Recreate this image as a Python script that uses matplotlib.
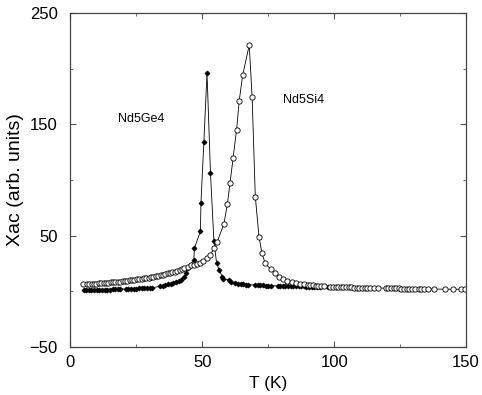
import matplotlib
matplotlib.use("Agg")
import matplotlib.pyplot as plt
from matplotlib.ticker import MultipleLocator

plt.rcParams['font.family'] = ['Liberation Sans', 'DejaVu Sans']

# Nd5Ge4 (filled diamonds)
ge_t = [5, 6, 7, 8, 9, 10, 11, 12, 13, 14, 15, 16, 17, 18, 19,
        21, 22, 23, 24, 25, 26, 27, 28, 29, 30, 31,
        34, 35, 36, 37, 38, 39, 40, 41, 42, 43.2, 44, 44.5, 46.8, 47,
        49.3, 49.5, 50.6, 51.8, 53.1, 54.4, 55.4, 56.4, 57.6, 58, 60.2,
        61, 62.4, 63.5, 64.5, 65.5, 66.5, 67.5,
        70, 71, 72, 73, 74, 75, 76,
        78.7, 79.5, 80.5, 81.5, 82.5, 83.5, 84.5, 85.5, 86.5, 87.5, 88.5,
        89.5, 90.5, 91.5, 92.5, 93.5, 94.5, 97.5, 98.5, 99.5]
ge_v = [1.3, 1.3, 1.4, 1.4, 1.4, 1.5, 1.5, 1.5, 1.6, 1.6, 1.6, 1.7, 1.7, 1.8, 1.8,
        2.2, 2.3, 2.4, 2.4, 2.5, 2.6, 2.7, 2.8, 2.9, 3.0, 3.2,
        4.5, 5.0, 5.6, 6.2, 6.8, 7.4, 8.2, 9.2, 10.5, 12.5, 16, 20.6, 28, 38.6,
        54, 79.6, 134, 196, 106.5, 45.4, 25.7, 19.1, 13.1, 11.5, 10.1,
        8.0, 7.2, 6.8, 6.5, 6.3, 6.1, 6.0,
        5.6, 5.5, 5.4, 5.3, 5.2, 5.1, 5.0,
        4.9, 4.8, 4.8, 4.7, 4.7, 4.6, 4.6, 4.5, 4.5, 4.4, 4.4,
        4.3, 4.3, 4.2, 4.2, 4.1, 4.1, 4.0, 4.0, 4.0]

# Nd5Si4 (open circles)
si_t = [4.6, 6.3, 7.2, 8.1, 9, 9.9, 10.8, 11.7, 12.6, 13.5, 14.4, 15.3, 16.2,
        17.1, 18, 18.9, 19.8, 20.7, 21.6, 22.5, 23.4, 24.3, 25.2, 26.1, 27,
        27.9, 28.8, 29.7, 30.6, 31.5, 32.4, 33.3, 34.2, 35.1, 36, 36.9, 37.8,
        38.7, 39.6, 40.5, 41.4, 42.3, 43.2, 44.7, 45.8, 47, 47.9, 49.2, 50.4,
        51.6, 52.9, 54.6, 55.6, 58.2, 59.5, 60.5, 61.7, 63, 64, 65.3, 67.8,
        68.9, 70.1, 71.5, 72.6, 73.8, 75.9, 77.6, 79, 80.7, 82, 84, 85.5, 87,
        88.5, 90, 91, 92, 93, 94, 95, 96, 98.5, 99.5, 100.5, 101.5, 102.5,
        103.5, 104.5, 105.5, 106.5, 107.5, 108.5, 109.5, 110.5, 111.5, 112.5,
        113.5, 115, 116.5, 119.5, 120.5, 121.5, 122.5, 123.5, 124.5, 125.5,
        126.5, 127.5, 128.5, 129.5, 130.5, 132, 133, 134, 135.5, 138, 142,
        145, 148, 149.5]
si_v = [6.5, 6.6, 6.7, 6.8, 6.9, 7.0, 7.1, 7.2, 7.4, 7.6, 7.8, 8.0, 8.2,
        8.4, 8.6, 8.8, 9.1, 9.3, 9.6, 9.8, 10.1, 10.4, 10.7, 11.0, 11.3,
        11.6, 11.9, 12.3, 12.7, 13.1, 13.5, 14.0, 14.5, 15.0, 15.5, 16.0, 16.5,
        17.0, 17.6, 18.3, 19.0, 19.8, 20.7, 22, 23.2, 24, 24.5, 25.8, 27.5,
        29.5, 32.6, 38.6, 44, 60.5, 78, 97, 120, 145, 171, 194, 221,
        174, 85, 49, 34.2, 25.5, 19.8, 16, 12.8, 10.8, 9.5, 8.1, 7.5, 7.0,
        6.6, 6.0, 5.6, 5.3, 5.0, 4.8, 4.6, 4.4, 4.1, 4.0, 3.9, 3.8, 3.7,
        3.7, 3.6, 3.5, 3.5, 3.4, 3.3, 3.3, 3.2, 3.2, 3.1,
        3.1, 3.0, 3.0, 2.8, 2.8, 2.7, 2.7, 2.6, 2.6, 2.5,
        2.5, 2.4, 2.4, 2.3, 2.3, 2.2, 2.2, 2.1, 2.1, 2.0, 1.9,
        1.9, 1.8, 1.8]

x_ticks = [0, 50, 100, 150]
y_ticks = [-50, 50, 150, 250]

fig = plt.figure(figsize=(4.82, 3.95), dpi=100)
ax = fig.add_axes([0.146, 0.1215, 0.821, 0.846])

ax.plot(ge_t, ge_v, color='black', lw=0.6, marker='D', ms=2.6,
        mfc='black', mec='black', mew=0.5)
ax.plot(si_t, si_v, color='black', lw=0.6, marker='o', ms=3.8,
        mfc='white', mec='black', mew=0.6)

ax.text(18, 155, 'Nd5Ge4', fontsize=9, va='center')
ax.text(80.5, 172, 'Nd5Si4', fontsize=9, va='center')

ax.set_xlim(0, 150)
ax.set_ylim(-50, 250)
ax.set_xticks(x_ticks)
ax.set_yticks(y_ticks)
ax.xaxis.set_minor_locator(MultipleLocator(25))
ax.yaxis.set_minor_locator(MultipleLocator(50))
ax.tick_params(which='both', direction='in', top=True, right=True,
               labelsize=12, color='#555555')
ax.tick_params(axis='x', pad=6)
ax.tick_params(axis='y', pad=9)
ax.tick_params(which='major', length=4)
ax.tick_params(which='minor', length=2)
for s in ax.spines.values():
    s.set_color('#444444')
    s.set_linewidth(0.9)

ax.set_xlabel('T (K)', fontsize=12.5, labelpad=4)
ax.set_ylabel('Xac (arb. units)', fontsize=14, labelpad=4)

fig.savefig('out.png', dpi=100)
